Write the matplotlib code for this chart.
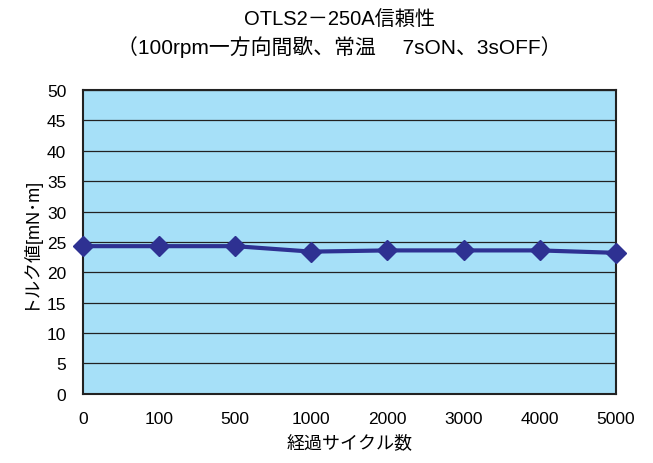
import numpy as np
import matplotlib.pyplot as plt

plt.rcParams['font.family'] = ['Liberation Sans', 'Noto Sans CJK JP', 'DejaVu Sans']

# data
cycles = ['0', '100', '500', '1000', '2000', '3000', '4000', '5000']
torque = [24.3, 24.3, 24.3, 23.4, 23.6, 23.6, 23.6, 23.2]

fig = plt.figure(figsize=(6.53, 4.64), dpi=100)
ax = fig.add_axes([0.127, 0.149, 0.816, 0.655])
ax.set_facecolor('#A6E0F8')

x = np.arange(len(cycles))
ax.plot(x, torque, color='#2E3192', linewidth=3, marker='D',
        markersize=10, clip_on=False, zorder=5)

ax.set_xlim(0, len(cycles) - 1)
ax.set_ylim(0, 50)
ax.set_yticks(np.arange(0, 51, 5))
ax.set_xticks(x)
ax.set_xticklabels(cycles)
ax.yaxis.grid(True, color='#222222', linewidth=0.9)
ax.set_axisbelow(True)
ax.tick_params(axis='both', which='both', length=0, labelsize=12.5, pad=12)
for s in ax.spines.values():
    s.set_color('#222222')
    s.set_linewidth(1.5)

ax.set_ylabel('トルク値[mN･m]', fontsize=13, labelpad=6)
ax.set_xlabel('経過サイクル数', fontsize=13, labelpad=6)
fig.text(0.52, 0.958, 'OTLS2－250A信頼性', ha='center', va='center', fontsize=14.5)
fig.text(0.52, 0.898, '（100rpm一方向間歇、常温　 7sON、3sOFF）', ha='center', va='center', fontsize=15)

plt.savefig('out.png', dpi=100)
